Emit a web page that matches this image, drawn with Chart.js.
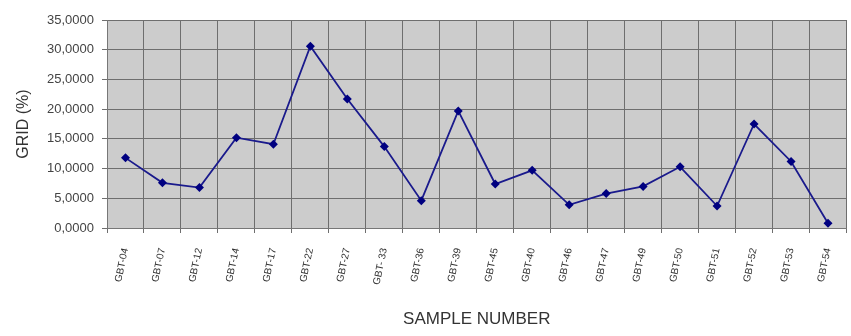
<!DOCTYPE html>
<html>
<head>
<meta charset="utf-8">
<script src="https://cdn.jsdelivr.net/npm/chart.js@4.4.1/dist/chart.umd.min.js"></script>
<style>
  html, body { margin: 0; padding: 0; background: #fff; }
  #wrap { width: 851px; height: 336px; }
</style>
</head>
<body>
<div id="wrap"><canvas id="myChart" width="851" height="336"></canvas></div>
<script>
// sample labels along the x axis
const samples = ['GBT-04', 'GBT-07', 'GBT-12', 'GBT-14', 'GBT-17', 'GBT-22', 'GBT-27', 'GBT- 33', 'GBT-36', 'GBT-39',
  'GBT-45', 'GBT-40', 'GBT-46', 'GBT-47', 'GBT-49', 'GBT-50', 'GBT-51', 'GBT-52', 'GBT-53', 'GBT-54'];

// GRID (%) per sample
const gridValues = [11.8, 7.6, 6.8, 15.2, 14.1, 30.6, 21.7, 13.7, 4.6, 19.7,
  7.4, 9.7, 3.9, 5.8, 7.0, 10.3, 3.7, 17.5, 11.2, 0.8];

const yMin = 0;
const yMax = 35;
const yStep = 5;

// paint the grey plot background
const plotBackground = {
  id: 'plotBackground',
  beforeDraw(chart) {
    const { ctx, chartArea: a } = chart;
    ctx.save();
    ctx.fillStyle = '#cccccc';
    ctx.fillRect(a.left, a.top, a.right - a.left, a.bottom - a.top);
    ctx.restore();
  }
};

const ctx = document.getElementById('myChart').getContext('2d');

const myChart = new Chart(ctx, {
  type: 'line',
  data: {
    labels: samples,
    datasets: [{
      label: 'GRID (%)',
      data: gridValues,
      borderColor: '#1a1a8c',
      backgroundColor: '#000080',
      borderWidth: 1.8,
      pointStyle: 'rectRot',
      pointRadius: 4.5,
      pointBorderWidth: 0,
      tension: 0,
      fill: false
    }]
  },
  options: {
    responsive: false,
    animation: false,
    layout: { padding: { top: 20, left: 14, right: 0, bottom: 6 } },
    plugins: {
      legend: { display: false },
      tooltip: { enabled: false }
    },
    scales: {
      x: {
        offset: true,
        grid: { offset: true, color: '#6e6e6e', lineWidth: 1, tickLength: 5, drawTicks: true },
        border: { color: '#777' },
        ticks: {
          minRotation: 78, maxRotation: 78, autoSkip: false,
          color: '#333', padding: 14,
          font: { family: 'Liberation Sans, Arial, sans-serif', size: 10 }
        },
        title: {
          display: true, text: 'SAMPLE NUMBER', color: '#333',
          font: { family: 'Liberation Sans, Arial, sans-serif', size: 17 },
          padding: { top: 14, bottom: 0 }
        },
        afterFit(scale) {
          scale.height = 102;
          scale.paddingRight = 0;
        }
      },
      y: {
        min: yMin, max: yMax,
        grid: { color: '#6e6e6e', lineWidth: 1, tickLength: 5 },
        border: { color: '#777' },
        ticks: {
          stepSize: yStep, color: '#444', padding: 8,
          font: { family: 'Liberation Sans, Arial, sans-serif', size: 13 },
          callback: (v) => v.toFixed(4).replace('.', ',')
        },
        title: {
          display: true, text: 'GRID (%)', color: '#333',
          font: { family: 'Liberation Sans, Arial, sans-serif', size: 16 },
          padding: { top: 0, bottom: 6 }
        },
        afterFit(scale) { scale.width = 93; }
      }
    }
  },
  plugins: [plotBackground]
});
</script>
</body>
</html>
